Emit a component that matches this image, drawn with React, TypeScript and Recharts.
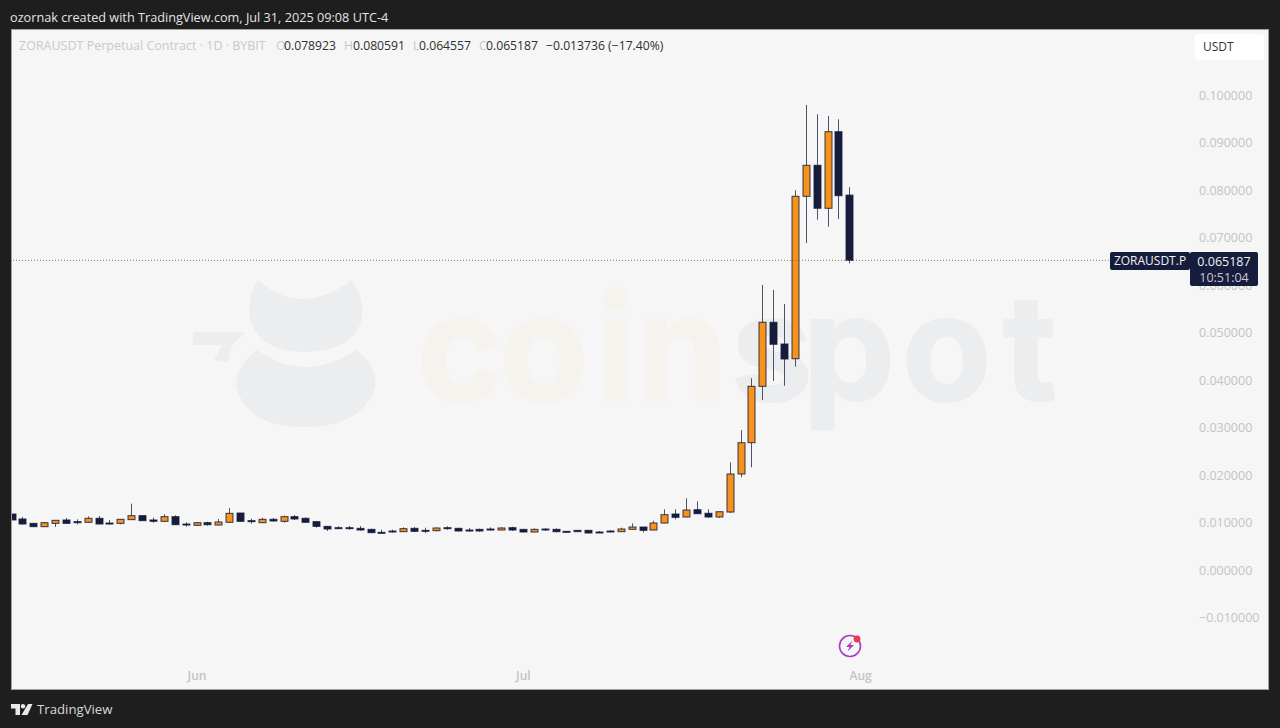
import { ComposedChart, Bar, XAxis, YAxis, ReferenceLine } from "recharts";

const opens = [
  0.01179, 0.01074, 0.00982, 0.00912, 0.00982, 0.01053, 0.01018, 0.01004, 0.01088, 0.00989,
  0.00982, 0.0106, 0.01144, 0.01053, 0.01025, 0.01123, 0.00968, 0.0094, 0.00996, 0.00947,
  0.01004, 0.012, 0.01039, 0.00996, 0.01067, 0.01025, 0.01123, 0.01088, 0.01018, 0.00919,
  0.00891, 0.00891, 0.00877, 0.00856, 0.00793, 0.00821, 0.00807, 0.00877, 0.00835, 0.00828,
  0.00891, 0.00877, 0.00842, 0.00856, 0.00863, 0.00842, 0.00891, 0.00856, 0.008, 0.00863,
  0.00856, 0.00814, 0.00835, 0.00835, 0.008, 0.00821, 0.00807, 0.00856, 0.00905, 0.00842,
  0.00989, 0.01179, 0.01116, 0.01269, 0.01194, 0.01116, 0.01221, 0.02021, 0.0268, 0.03867,
  0.05215, 0.04758, 0.04448, 0.07867, 0.0852, 0.07615, 0.09227, 0.078923,
];
const highs = [
  0.01179, 0.01116, 0.00982, 0.01011, 0.01046, 0.01095, 0.01067, 0.0113, 0.01137, 0.01053,
  0.01067, 0.01397, 0.01144, 0.01102, 0.01172, 0.01151, 0.01004, 0.01011, 0.01018, 0.01074,
  0.01305, 0.012, 0.01081, 0.01102, 0.01095, 0.01144, 0.01158, 0.01109, 0.01025, 0.00919,
  0.00919, 0.00926, 0.00926, 0.0087, 0.00849, 0.00849, 0.00898, 0.00905, 0.00891, 0.00898,
  0.00919, 0.00891, 0.00884, 0.0087, 0.00898, 0.00905, 0.00912, 0.00863, 0.00877, 0.00877,
  0.00877, 0.00814, 0.00835, 0.00842, 0.00821, 0.00835, 0.00891, 0.00982, 0.00905, 0.01039,
  0.01278, 0.01278, 0.01509, 0.01446, 0.01278, 0.01227, 0.02267, 0.02947, 0.04036, 0.06,
  0.05895, 0.056, 0.07994, 0.09789, 0.09594, 0.09558, 0.09488, 0.080591,
];
const lows = [
  0.01053, 0.00961, 0.00912, 0.00912, 0.00905, 0.00982, 0.00961, 0.00996, 0.00968, 0.00961,
  0.00961, 0.0106, 0.01039, 0.00996, 0.01018, 0.00947, 0.00912, 0.00933, 0.00933, 0.0094,
  0.00996, 0.01018, 0.00975, 0.00989, 0.01018, 0.00996, 0.01053, 0.00996, 0.00891, 0.00821,
  0.00863, 0.00849, 0.00828, 0.00779, 0.00779, 0.00786, 0.008, 0.008, 0.00779, 0.00814,
  0.00849, 0.00814, 0.00807, 0.00807, 0.00828, 0.00835, 0.00821, 0.00793, 0.00793, 0.00821,
  0.00793, 0.008, 0.00807, 0.00772, 0.00779, 0.00793, 0.008, 0.00849, 0.00793, 0.00835,
  0.00983, 0.01067, 0.01109, 0.01185, 0.01095, 0.01101, 0.012, 0.01952, 0.02162, 0.03579,
  0.03979, 0.0388, 0.0428, 0.06884, 0.07375, 0.07227, 0.07389, 0.064557,
];
const closes = [
  0.01053, 0.00968, 0.00912, 0.00996, 0.01046, 0.00982, 0.00996, 0.01088, 0.00968, 0.00968,
  0.01067, 0.01144, 0.01039, 0.01025, 0.01123, 0.00954, 0.00947, 0.00996, 0.00954, 0.01011,
  0.01193, 0.01025, 0.01018, 0.01067, 0.01032, 0.01123, 0.01074, 0.01004, 0.00919, 0.00863,
  0.00877, 0.00877, 0.00842, 0.00786, 0.00786, 0.00807, 0.0087, 0.00814, 0.00828, 0.00884,
  0.00877, 0.00821, 0.00821, 0.00821, 0.00842, 0.00884, 0.00842, 0.008, 0.00856, 0.00849,
  0.00807, 0.00807, 0.00807, 0.00779, 0.00786, 0.00807, 0.00863, 0.00905, 0.00835, 0.00989,
  0.01164, 0.01109, 0.01263, 0.01185, 0.01116, 0.01227, 0.02021, 0.0268, 0.03867, 0.05215,
  0.04752, 0.04442, 0.07867, 0.0852, 0.07615, 0.09227, 0.0788, 0.065187,
];

const priceTicks = [-0.01, 0, 0.01, 0.02, 0.03, 0.04, 0.05, 0.06, 0.07, 0.08, 0.09, 0.1];
const monthTicks = [17, 47, 78];
const monthLabels = ["Jun", "Jul", "Aug"];
const lastClose = 0.065187;

const candles = opens.map((open, i) => ({
  day: i,
  open,
  high: highs[i],
  low: lows[i],
  close: closes[i],
}));

const UP = "#f7931a";
const DOWN = "#161c3c";
const FONT = "'Open Sans', sans-serif";

function Candle(props: any) {
  const { x, y, width, height, payload } = props;
  const { open, high, low, close } = payload;
  const perUnit = height / (high - low);
  const top = y + (high - Math.max(open, close)) * perUnit;
  const bottom = y + (high - Math.min(open, close)) * perUnit;
  const cx = Math.round(x + width / 2) + 0.5;
  const bodyH = Math.max(bottom - top, 1);
  return (
    <g>
      <line x1={cx} x2={cx} y1={y} y2={y + height} stroke={DOWN} strokeOpacity={0.75} />
      <rect
        x={cx - 3.5}
        y={top}
        width={7}
        height={bodyH}
        fill={close >= open ? UP : DOWN}
        stroke={DOWN}
        strokeOpacity={0.85}
      />
    </g>
  );
}

function Watermark() {
  const letters = {
    y: 400,
    fontFamily: "Inter, sans-serif",
    fontWeight: 700,
    fontSize: 146,
    strokeWidth: 2,
    strokeLinejoin: "round" as const,
  };
  return (
    <svg width={1280} height={728} style={{ position: "absolute", left: 0, top: 0 }}>
      <path
        d="M258 280 Q300 318 352 280 Q366 300 361 322 Q350 352 305 352 Q258 352 250 318 Q247 298 258 280 Z"
        fill="#ecedef"
      />
      <path
        d="M257 350 Q305 384 356 350 Q378 366 375 388 Q362 427 305 427 Q246 427 236 386 Q236 366 257 350 Z"
        fill="#ecedef"
      />
      <path d="M193 332 L245 332 L232 345 L228 362 L214 360 L222 345 L193 345 Z" fill="#ecedef" />
      <text {...letters} x="417 499 596 636" fill="#f6f2ed" stroke="#f6f2ed">
        coin
      </text>
      <text {...letters} x="731 803 902 1003" fill="#ecedef" stroke="#ecedef">
        spot
      </text>
    </svg>
  );
}

function Legend() {
  const base: React.CSSProperties = {
    position: "absolute",
    top: 38,
    fontSize: 12.2,
    lineHeight: "16px",
    whiteSpace: "nowrap",
    fontFamily: FONT,
  };
  const faint = "#c9c9c9";
  const dark = "#2e2e2e";
  return (
    <>
      <span style={{ ...base, left: 19, color: faint, fontSize: 12.5 }}>
        ZORAUSDT Perpetual Contract · 1D · BYBIT
      </span>
      <span style={{ ...base, left: 276, color: faint }}>O</span>
      <span style={{ ...base, left: 284, color: dark }}>0.078923</span>
      <span style={{ ...base, left: 344, color: faint }}>H</span>
      <span style={{ ...base, left: 353, color: dark }}>0.080591</span>
      <span style={{ ...base, left: 413, color: faint }}>L</span>
      <span style={{ ...base, left: 419, color: dark }}>0.064557</span>
      <span style={{ ...base, left: 479, color: faint }}>C</span>
      <span style={{ ...base, left: 486, color: dark }}>0.065187</span>
      <span style={{ ...base, left: 546, color: dark }}>−0.013736 (−17.40%)</span>
    </>
  );
}

function PriceLabels() {
  const box: React.CSSProperties = {
    position: "absolute",
    background: "#161c3c",
    color: "#f2f2f2",
    fontFamily: FONT,
    fontSize: 12.5,
    borderRadius: 2,
    boxSizing: "border-box",
    textAlign: "center",
  };
  return (
    <>
      <div style={{ ...box, left: 1110, top: 252, width: 80, height: 18, lineHeight: "18px", fontSize: 12 }}>
        ZORAUSDT.P
      </div>
      <div style={{ ...box, left: 1190, top: 252, width: 68, height: 34, lineHeight: "16px", paddingTop: 2 }}>
        0.065187
        <br />
        <span style={{ color: "#c8c9d2" }}>10:51:04</span>
      </div>
    </>
  );
}

function TvLogo() {
  return (
    <svg width={22} height={12} style={{ position: "absolute", left: 11, top: 704 }}>
      <path d="M0 0 H9 V11 H4.5 V4.5 H0 Z" fill="#e8e8e8" />
      <circle cx={12} cy={2.2} r={2.2} fill="#e8e8e8" />
      <path d="M17 0 H21.5 L16.5 11 H10.5 Z" fill="#e8e8e8" />
    </svg>
  );
}

function SparkIcon() {
  return (
    <svg width={30} height={30} style={{ position: "absolute", left: 835, top: 631 }}>
      <circle cx={15} cy={15} r={10.5} fill="none" stroke="#a93bc4" strokeWidth={1.6} />
      <path d="M17.5 9.5 L11 16 H14.5 L12.5 20.5 L19 14 H15.5 Z" fill="#a93bc4" />
      <circle cx={22} cy={8} r={3.4} fill="#f0364a" />
    </svg>
  );
}

export default function App() {
  return (
    <div
      style={{
        position: "absolute",
        left: 0,
        top: 0,
        width: 1280,
        height: 728,
        background: "#1e1e1e",
        overflow: "hidden",
      }}
    >
      <div
        style={{
          position: "absolute",
          left: 11,
          top: 29,
          width: 1258,
          height: 661,
          boxSizing: "border-box",
          border: "1px solid #a0a0a0",
          background: "#f6f6f6",
        }}
      />
      <Watermark />
      <div style={{ position: "absolute", left: 12, top: 30, width: 1256, height: 659, overflow: "hidden" }}>
        <ComposedChart
          width={1256}
          height={659}
          data={candles}
          margin={{ top: 0, right: 0, bottom: 0, left: 0 }}
        >
          <XAxis
            dataKey="day"
            type="number"
            domain={[0, 108.27]}
            allowDataOverflow
            ticks={monthTicks}
            interval={0}
            mirror
            axisLine={false}
            tickLine={false}
            tickSize={0}
            tickMargin={9}
            tick={{ fill: "#c4c4c4", fontSize: 12, fontWeight: 600, fontFamily: FONT }}
            tickFormatter={(v: number) => monthLabels[monthTicks.indexOf(v)]}
          />
          <YAxis
            orientation="right"
            width={78}
            type="number"
            domain={[-0.02505, 0.11368]}
            allowDataOverflow
            ticks={priceTicks}
            interval={0}
            axisLine={false}
            tickLine={false}
            tickSize={0}
            tickMargin={9}
            tick={{ fill: "#c4c4c4", fontSize: 12.5, fontFamily: FONT, dy: 0.5 }}
            tickFormatter={(v: number) => (v < 0 ? "−" + Math.abs(v).toFixed(6) : v.toFixed(6))}
          />
          <ReferenceLine y={lastClose} stroke="#777777" strokeDasharray="1 2" />
          <Bar
            dataKey={(d: any) => [d.low, d.high]}
            barSize={8}
            shape={<Candle />}
            isAnimationActive={false}
          />
        </ComposedChart>
      </div>
      <Legend />
      <div
        style={{
          position: "absolute",
          left: 1195,
          top: 34,
          width: 69,
          height: 26,
          background: "#ffffff",
          borderRadius: 4,
          color: "#333333",
          fontFamily: FONT,
          fontSize: 12,
          lineHeight: "26px",
          paddingLeft: 8,
          boxSizing: "border-box",
        }}
      >
        USDT
      </div>
      <PriceLabels />
      <SparkIcon />
      <div
        style={{
          position: "absolute",
          left: 10,
          top: 9,
          color: "#e4e4e4",
          fontFamily: FONT,
          fontSize: 12.7,
          lineHeight: "17px",
          whiteSpace: "nowrap",
        }}
      >
        ozornak created with TradingView.com, Jul 31, 2025 09:08 UTC-4
      </div>
      <TvLogo />
      <div
        style={{
          position: "absolute",
          left: 37,
          top: 700,
          color: "#d8d8d8",
          fontFamily: FONT,
          fontSize: 13.2,
          lineHeight: "19px",
          whiteSpace: "nowrap",
        }}
      >
        TradingView
      </div>
    </div>
  );
}
